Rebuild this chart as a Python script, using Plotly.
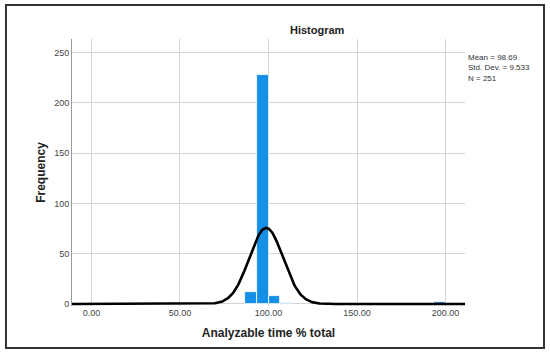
import numpy as np
import plotly.graph_objects as go

# Histogram bins (edges at multiples of 20/3) and counts
bin_width = 20 / 3
bin_left_edges = [86.6667, 93.3333, 100.0, 106.6667, 193.3333]
counts = [12, 228, 8, 1, 2]

# Summary statistics
mean_val = 98.69
std_val = 9.533
n_val = 251
curve_bin_width = 7.2  # scaling used for the normal overlay

x_ticks = [0, 50, 100, 150, 200]
y_ticks = [0, 50, 100, 150, 200, 250]

centers = [e + bin_width / 2 for e in bin_left_edges]

xs = np.linspace(-11, 211, 600)
ys = n_val * curve_bin_width / (std_val * np.sqrt(2 * np.pi)) * np.exp(-0.5 * ((xs - mean_val) / std_val) ** 2)

fig = go.Figure()
fig.add_trace(go.Bar(
    x=centers, y=counts, width=bin_width,
    marker=dict(color="#1690e6", line=dict(color="white", width=0.8)),
    hoverinfo="skip",
))
fig.add_trace(go.Scatter(
    x=xs, y=ys, mode="lines",
    line=dict(color="black", width=2.6),
    hoverinfo="skip",
))

font_family = "Liberation Sans, Arial, sans-serif"

fig.update_layout(
    width=550, height=354,
    margin=dict(l=72, r=85, t=39, b=48),
    paper_bgcolor="white", plot_bgcolor="white",
    showlegend=False,
    font=dict(family=font_family, color="#333333", size=9),
    bargap=0,
    xaxis=dict(
        range=[-11, 211], tickvals=x_ticks, tickformat=".2f",
        showgrid=True, gridcolor="#d4d4d4", gridwidth=1,
        zeroline=False, showline=False, ticks="",
        tickfont=dict(size=9, color="#444444"),
        title=dict(text="<b>Analyzable time % total</b>", font=dict(size=12, color="#222222"), standoff=11),
    ),
    yaxis=dict(
        range=[-2, 263.5], tickvals=y_ticks,
        showgrid=True, gridcolor="#d4d4d4", gridwidth=1,
        zeroline=False, showline=True, linecolor="#9a9a9a", linewidth=1,
        ticks="", tickfont=dict(size=9, color="#444444"),
        title=dict(text="<b>Frequency</b>", font=dict(size=12, color="#222222"), standoff=5),
    ),
    shapes=[dict(
        type="rect", xref="paper", yref="paper",
        x0=-0.168, x1=1.201, y0=-0.157, y1=1.127,
        line=dict(color="#333333", width=2), fillcolor="rgba(0,0,0,0)",
    )],
    annotations=[
        dict(text="<b>Histogram</b>", xref="paper", yref="paper",
             x=0.625, y=1.0, yanchor="bottom", xanchor="center", yshift=1,
             showarrow=False, font=dict(size=11, color="#222222")),
        dict(text="Mean = 98.69<br>Std. Dev. = 9.533<br>N = 251", xref="paper", yref="paper",
             x=1.003, y=0.955, xanchor="left", yanchor="top", align="left",
             showarrow=False, font=dict(size=8, color="#333333")),
    ],
)

fig.write_html("out.html", config={"displayModeBar": False},
               post_script="document.body.style.margin='0';")
